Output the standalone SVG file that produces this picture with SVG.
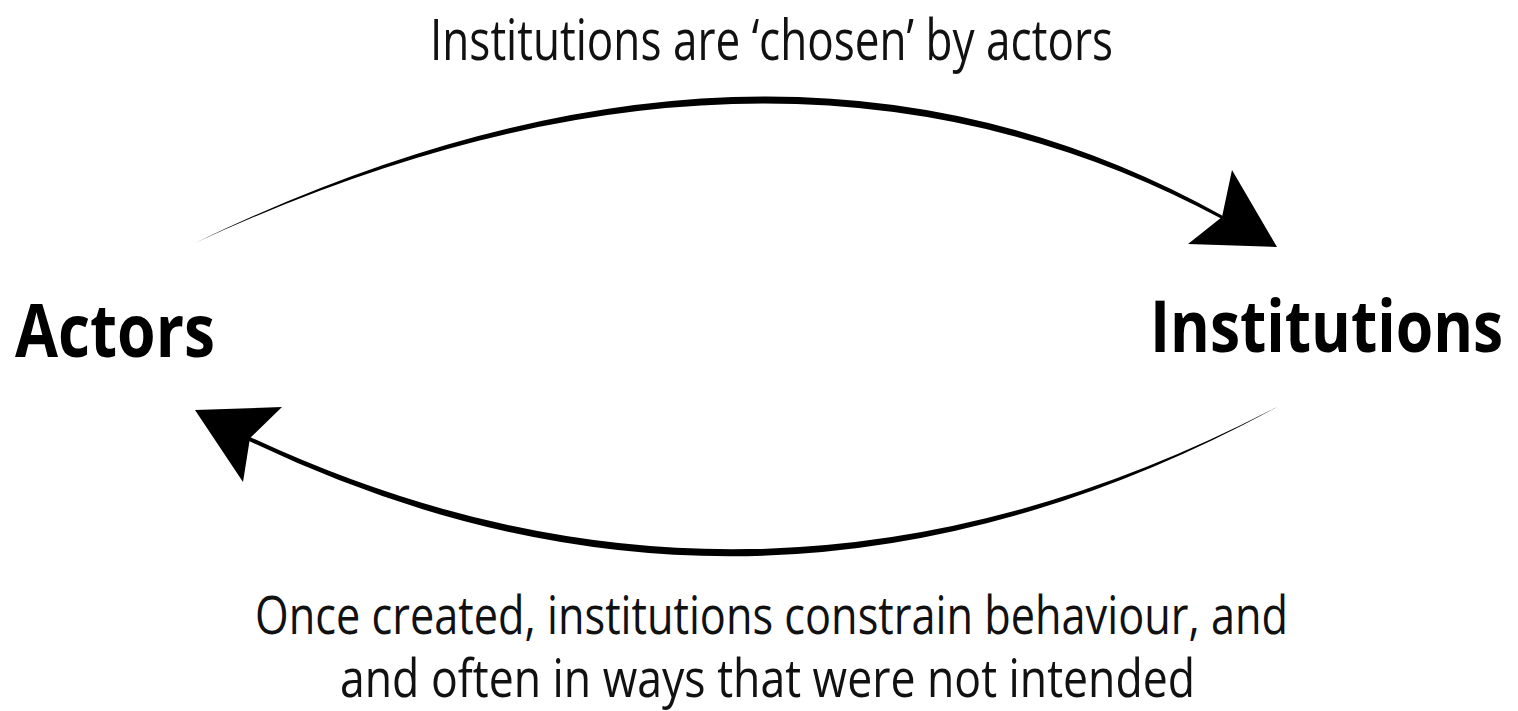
<svg xmlns="http://www.w3.org/2000/svg" width="1518" height="711" viewBox="0 0 1518 711">
<style>
.lbl{font-family:"Open Sans","Noto Sans","Liberation Sans",sans-serif;fill:#111;}
.node{font-family:"Open Sans","Noto Sans","Liberation Sans",sans-serif;font-weight:bold;fill:#000;}
.arc{fill:#000;stroke:none;}
</style>
<rect width="1518" height="711" fill="#fff"/>
<g id="actors">
<text class="node" x="15" y="357" font-size="74" textLength="200" lengthAdjust="spacingAndGlyphs">Actors</text>
</g>
<g id="institutions">
<text class="node" transform="translate(1150,352) scale(0.835,1)" x="0" y="0" font-size="72" textLength="423" lengthAdjust="spacingAndGlyphs">Institutions</text>
</g>
<g id="connectors">
<path class="arc" d="M195,243 Q771,-35.5 1222,215.5 L1223,219.5 Q771,-23.5 195,243 Z"/>
<polygon class="arc" points="1277,247 1188,244 1222,217 1232,170"/>
<path class="arc" d="M1277,407 Q761,676 249,436.5 L247,440 Q761,688 1277,407 Z"/>
<polygon class="arc" points="195,410 282,407 250,438 243,482"/>
<text class="lbl" x="430" y="60" font-size="56" textLength="683" lengthAdjust="spacingAndGlyphs">Institutions are ‘chosen’ by actors</text>
<text class="lbl" font-size="53"><tspan x="255" y="634" textLength="1033" lengthAdjust="spacingAndGlyphs">Once created, institutions constrain behaviour, and</tspan><tspan x="340" y="697" textLength="855" lengthAdjust="spacingAndGlyphs">and often in ways that were not intended</tspan></text>
</g>
</svg>
